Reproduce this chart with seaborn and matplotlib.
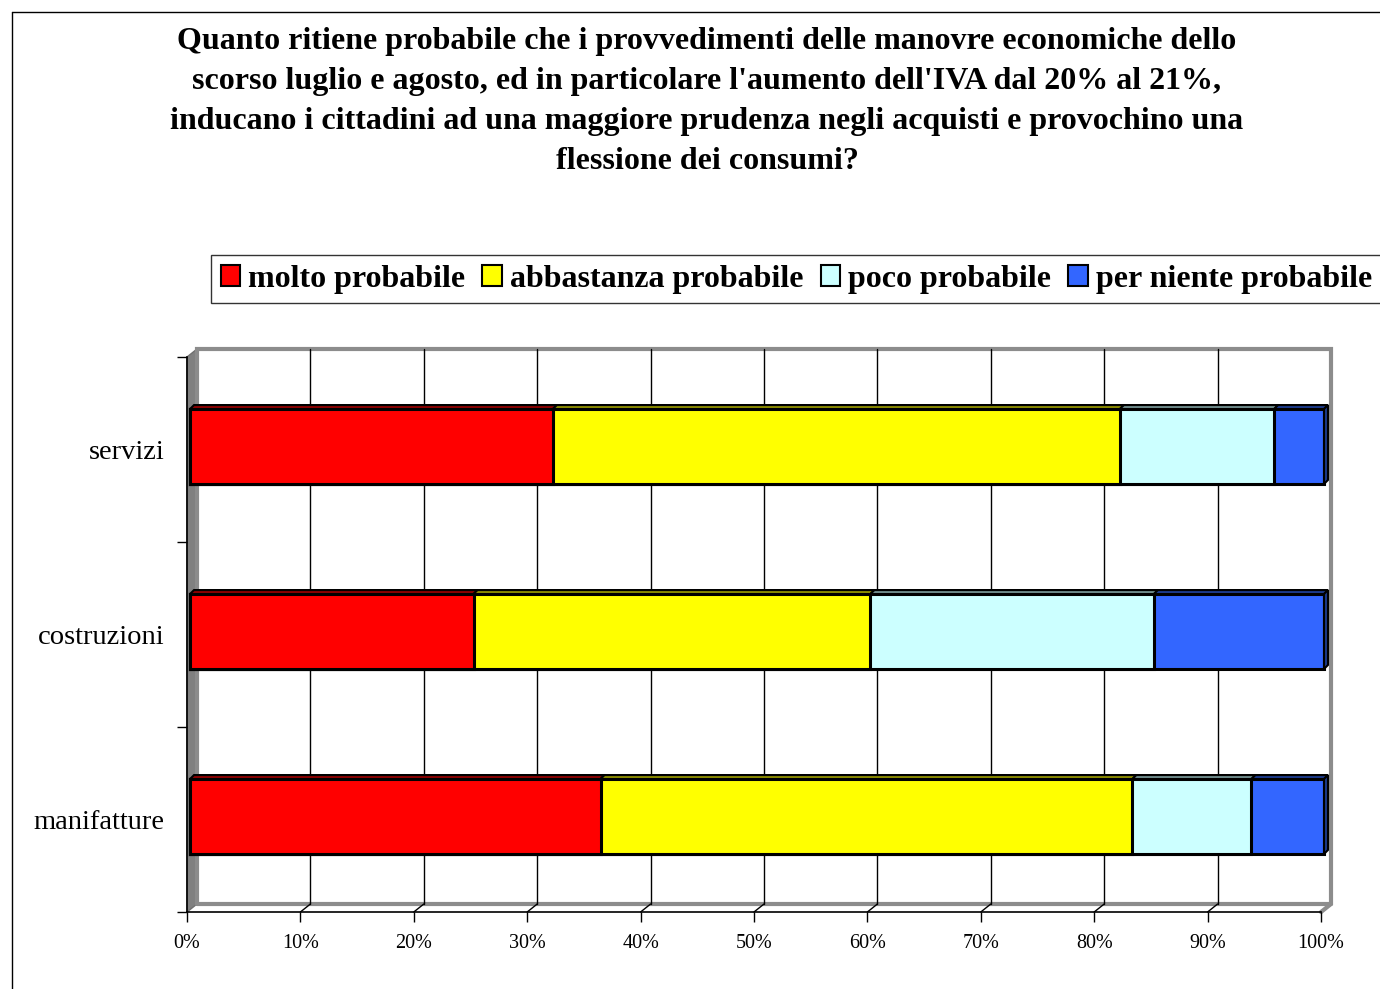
import matplotlib
matplotlib.use("Agg")
import matplotlib.pyplot as plt
import matplotlib.transforms as mtrans
from matplotlib.patches import Patch, Polygon
from matplotlib.lines import Line2D
import pandas as pd
import seaborn as sns

# --- data -------------------------------------------------------------
categories = ["servizi", "costruzioni", "manifatture"]
series_names = ["molto probabile", "abbastanza probabile",
                "poco probabile", "per niente probabile"]
molto = [32.0, 25.0, 36.2]
abbastanza = [50.0, 35.0, 46.9]
poco = [13.6, 25.0, 10.5]
per_niente = [4.4, 15.0, 6.4]
series_colors = ["#FF0000", "#FFFF00", "#CCFFFF", "#3366FF"]
shade_colors = ["#8A0000", "#8A8A00", "#6E8A8A", "#1C3A8A"]
xtick_values = list(range(0, 101, 10))
xtick_labels = [f"{v}%" for v in xtick_values]
title_lines = [
    "Quanto ritiene probabile che i provvedimenti delle manovre economiche dello",
    "scorso luglio e agosto, ed in particolare l'aumento dell'IVA dal 20% al 21%,",
    "inducano i cittadini ad una maggiore prudenza negli acquisti e provochino una",
    "flessione dei consumi?",
]

sns.set_theme(style="white")
plt.rcParams["font.family"] = ["Liberation Serif", "DejaVu Serif"]
plt.rcParams.update({"text.color": "black", "axes.labelcolor": "black",
                     "xtick.color": "black", "ytick.color": "black"})

W, H = 1380, 989
fig = plt.figure(figsize=(W / 100, H / 100), dpi=100)


def fx(px):
    return px / W


def fy(py):
    return 1 - py / H


# front plane of the plot
ax = fig.add_axes([fx(187), fy(912), fx(1321) - fx(187), (912 - 357) / H])
ax.set_facecolor("none")
ax.set_zorder(2)

df = pd.DataFrame({"categoria": categories, "molto": molto,
                   "abbastanza": abbastanza, "poco": poco,
                   "per_niente": per_niente})
cols = ["molto", "abbastanza", "poco", "per_niente"]
cum = df[cols].cumsum(axis=1)
cum["categoria"] = df["categoria"]

bar_width = 0.405
# stacked bars: draw the cumulative totals from the longest to the shortest
for col, color in reversed(list(zip(cols, series_colors))):
    sns.barplot(data=cum, x=col, y="categoria", orient="h", color=color,
                edgecolor="black", linewidth=2.2, width=bar_width,
                saturation=1, ax=ax, zorder=5)

ax.set_xlim(0, 100)
ax.set_ylim(2.5, -0.5)

# depth: bars and grid sit slightly behind the front plane
dpi = fig.dpi
bar_tr = ax.transData + mtrans.ScaledTranslation(3 / dpi, 3 / dpi, fig.dpi_scale_trans)
back_shift = mtrans.ScaledTranslation(10 / dpi, 8 / dpi, fig.dpi_scale_trans)
for p in ax.patches:
    p.set_transform(bar_tr)
    p.set_clip_on(False)

# top and end faces of the bar segments
ident = mtrans.IdentityTransform()
d = 4
for i in range(len(categories)):
    start = 0.0
    for j, col in enumerate(cols):
        end = cum.loc[i, col]
        (xa, ytop), (xb, _) = bar_tr.transform([(start, i - bar_width / 2),
                                                (end, i - bar_width / 2)])
        ax.add_patch(Polygon([(xa, ytop), (xa + d, ytop + d), (xb + d, ytop + d),
                              (xb, ytop)], closed=True, transform=ident,
                             facecolor=shade_colors[j], edgecolor="black",
                             lw=1.5, zorder=6, clip_on=False))
        if j == len(cols) - 1:
            ybot = bar_tr.transform((end, i + bar_width / 2))[1]
            ax.add_patch(Polygon([(xb, ybot), (xb + d, ybot + d), (xb + d, ytop + d),
                                  (xb, ytop)], closed=True, transform=ident,
                                 facecolor=shade_colors[j], edgecolor="black",
                                 lw=1.5, zorder=6, clip_on=False))
        start = end

# back wall, left wall and floor edges
disp = ax.transAxes.transform
(x0, y0), (x1, y1) = disp((0, 0)), disp((1, 1))
dx, dy = 10, 8
wall_grey = "#8C8C8C"
fig.add_artist(Polygon([(x0, y0), (x0 + dx, y0 + dy), (x0 + dx, y1 + dy), (x0, y1)],
                       closed=True, transform=ident, facecolor="#808080",
                       edgecolor="#707070", lw=1, zorder=0.5))
fig.add_artist(Line2D([x0 + dx, x0 + dx, x1 + dx, x1 + dx, x1],
                      [y0 + dy, y1 + dy, y1 + dy, y0 + dy, y0],
                      transform=ident, color=wall_grey, lw=3, zorder=0.6,
                      solid_joinstyle="miter"))
fig.add_artist(Line2D([x0 + dx, x1 + dx], [y0 + dy, y0 + dy], transform=ident,
                      color=wall_grey, lw=3, zorder=0.6))

# vertical gridlines on the back wall and their floor connectors
grid_tr = mtrans.blended_transform_factory(ax.transData, ax.transAxes) + back_shift
for v in xtick_values[1:-1]:
    ax.plot([v, v], [0, 1], transform=grid_tr, color="black", lw=1, zorder=1,
            clip_on=False)
    xs = ax.transData.transform((v, 0))[0]
    fig.add_artist(Line2D([xs, xs + dx], [y0, y0 + dy], transform=ident,
                          color="black", lw=1, zorder=1))

# axes styling
for side in ["top", "right"]:
    ax.spines[side].set_visible(False)
for side in ["left", "bottom"]:
    ax.spines[side].set_color("black")
    ax.spines[side].set_linewidth(1.2)
    ax.spines[side].set_zorder(3)

ax.set_xticks(xtick_values)
ax.set_xticklabels(xtick_labels, fontsize=14.5)
ax.tick_params(axis="x", direction="out", length=7, width=1, color="black",
               pad=9, bottom=True)
ax.set_yticks(range(len(categories)))
ax.set_yticklabels(categories, fontsize=20.5)
ax.tick_params(axis="y", length=0, pad=16)
ax.set_yticks([-0.5, 0.5, 1.5, 2.5], minor=True)
ax.tick_params(axis="y", which="minor", direction="out", length=7, width=1,
               color="black", left=True)
ax.set_xlabel("")
ax.set_ylabel("")
ax.grid(False)

# title
for i, line in enumerate(title_lines):
    fig.text(fx(707), fy(41 + 40 * i), line, ha="center", va="center",
             fontsize=23, fontweight="bold")

# legend
handles = [Patch(facecolor=c, edgecolor="black", lw=1.5) for c in series_colors]
leg = fig.legend(handles, series_names, loc="upper left",
                 bbox_to_anchor=(fx(211), fy(255)), ncol=4, frameon=True,
                 prop={"size": 23, "weight": "bold"}, handlelength=0.62,
                 handleheight=0.62, handletextpad=0.25, columnspacing=0.53,
                 borderpad=0.3, borderaxespad=0, fancybox=False)
leg.get_frame().set_edgecolor("black")
leg.get_frame().set_linewidth(1)

# outer chart frame
fig.add_artist(Line2D([fx(12), fx(12)], [fy(12), 0], transform=fig.transFigure,
                      color="black", lw=1))
fig.add_artist(Line2D([fx(12), 1], [fy(12), fy(12)], transform=fig.transFigure,
                      color="black", lw=1))

fig.savefig("out.png", dpi=100)
